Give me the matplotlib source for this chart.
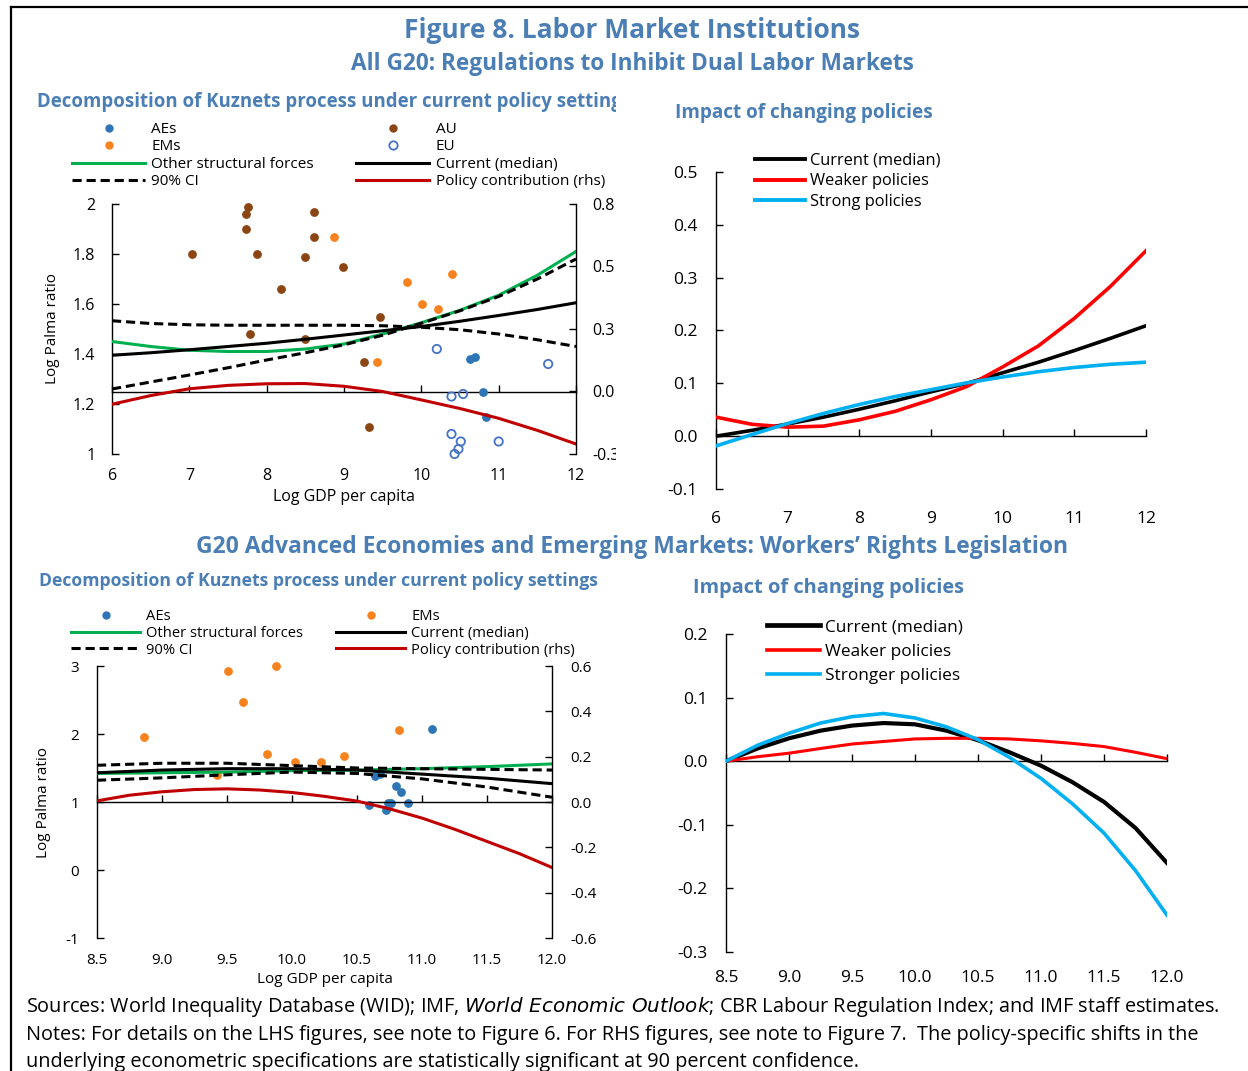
import numpy as np
import matplotlib
matplotlib.use("Agg")
import matplotlib.pyplot as plt
from matplotlib.lines import Line2D
from matplotlib.transforms import Bbox, TransformedBbox

plt.rcParams['font.family'] = ['Open Sans', 'DejaVu Sans']
plt.rcParams['axes.unicode_minus'] = False

# =============================================================================
# DATA
# =============================================================================

# --- Top left: All G20, decomposition of Kuznets process ---------------------
tl_ae_x = [10.63, 10.69, 10.80, 10.84]
tl_ae_y = [1.38, 1.39, 1.25, 1.15]
tl_em_x = [8.87, 9.81, 10.40, 10.01, 10.22, 9.43]
tl_em_y = [1.87, 1.69, 1.72, 1.60, 1.58, 1.37]
tl_au_x = [7.76, 7.73, 7.73, 7.04, 7.87, 8.61, 8.61, 8.50, 8.99, 8.18, 7.78, 8.50, 9.46, 9.26, 9.32]
tl_au_y = [1.99, 1.96, 1.90, 1.80, 1.80, 1.97, 1.87, 1.79, 1.75, 1.66, 1.48, 1.46, 1.55, 1.37, 1.11]
tl_eu_x = [10.20, 11.64, 10.39, 10.54, 10.39, 10.51, 10.48, 10.43, 11.00]
tl_eu_y = [1.42, 1.36, 1.23, 1.24, 1.08, 1.05, 1.02, 1.00, 1.05]

tl_grid = [6.0, 6.5, 7.0, 7.5, 8.0, 8.5, 9.0, 9.5, 10.0, 10.5, 11.0, 11.5, 12.0]
tl_other = [1.45, 1.43, 1.415, 1.41, 1.41, 1.42, 1.44, 1.48, 1.525, 1.575, 1.635, 1.715, 1.81]
tl_current = [1.395, 1.405, 1.417, 1.43, 1.443, 1.459, 1.476, 1.493, 1.51, 1.531, 1.554, 1.578, 1.605]
tl_ci_hi = [1.533, 1.522, 1.517, 1.515, 1.515, 1.515, 1.515, 1.513, 1.507, 1.497, 1.48, 1.457, 1.43]
tl_ci_lo = [1.26, 1.288, 1.316, 1.345, 1.376, 1.405, 1.437, 1.475, 1.523, 1.573, 1.63, 1.70, 1.78]
tl_policy = [-0.081, -0.043, -0.013, 0.002, 0.009, 0.010, -0.002, -0.025, -0.062, -0.10, -0.143, -0.196, -0.256]

tl_left_ticks = [1.0, 1.2, 1.4, 1.6, 1.8, 2.0]
tl_left_labels = ["1", "1.2", "1.4", "1.6", "1.8", "2"]
tl_right_ticks = [-0.3, -0.025, 0.25, 0.525, 0.8]
tl_right_labels = ["-0.3", "0.0", "0.3", "0.5", "0.8"]
tl_xticks = [6, 7, 8, 9, 10, 11, 12]

# --- Top right: All G20, impact of changing policies -------------------------
tr_grid = [6.0, 6.5, 7.0, 7.5, 8.0, 8.5, 9.0, 9.5, 10.0, 10.5, 11.0, 11.5, 12.0]
tr_current = [0.0, 0.011, 0.023, 0.036, 0.051, 0.067, 0.084, 0.100, 0.12, 0.14, 0.162, 0.185, 0.209]
tr_weaker = [0.036, 0.0225, 0.017, 0.019, 0.031, 0.047, 0.069, 0.094, 0.131, 0.171, 0.223, 0.283, 0.351]
tr_strong = [-0.0185, 0.003, 0.024, 0.043, 0.060, 0.075, 0.088, 0.101, 0.112, 0.122, 0.130, 0.136, 0.140]
tr_yticks = [-0.1, 0.0, 0.1, 0.2, 0.3, 0.4, 0.5]

# --- Bottom left: AEs and EMs, decomposition ---------------------------------
bl_ae_x = [11.08, 10.59, 10.64, 10.68, 10.80, 10.84, 10.72, 10.74, 10.76, 10.89]
bl_ae_y = [2.07, 0.95, 1.38, 1.41, 1.24, 1.14, 0.885, 0.98, 0.99, 0.98]
bl_em_x = [8.86, 9.51, 9.88, 9.62, 9.81, 10.02, 10.22, 10.40, 10.82, 9.42]
bl_em_y = [1.96, 2.92, 3.00, 2.47, 1.71, 1.59, 1.59, 1.68, 2.06, 1.40]

bl_grid = [8.5, 9.0, 9.5, 10.0, 10.5, 11.0, 11.5, 12.0]
bl_other = [1.42, 1.43, 1.44, 1.46, 1.47, 1.49, 1.52, 1.56]
bl_current = [1.43, 1.47, 1.49, 1.49, 1.47, 1.41, 1.35, 1.27]
bl_ci_hi = [1.54, 1.57, 1.57, 1.535, 1.50, 1.49, 1.48, 1.47]
bl_ci_lo = [1.32, 1.355, 1.40, 1.44, 1.42, 1.34, 1.22, 1.07]
bl_grid_fine = [8.5, 8.75, 9.0, 9.25, 9.5, 9.75, 10.0, 10.25, 10.5, 10.75, 11.0, 11.25, 11.5, 11.75, 12.0]
bl_policy = [0.005, 0.03, 0.045, 0.055, 0.058, 0.053, 0.042, 0.025, 0.004, -0.03, -0.071, -0.12, -0.174, -0.228, -0.289]

bl_left_ticks = [-1, 0, 1, 2, 3]
bl_right_ticks = [-0.6, -0.4, -0.2, 0.0, 0.2, 0.4, 0.6]
bl_xticks = [8.5, 9.0, 9.5, 10.0, 10.5, 11.0, 11.5, 12.0]

# --- Bottom right: AEs and EMs, impact of changing policies ------------------
br_grid = [8.5, 8.75, 9.0, 9.25, 9.5, 9.75, 10.0, 10.25, 10.5, 10.75, 11.0, 11.25, 11.5, 11.75, 12.0]
br_current = [0.0, 0.02, 0.036, 0.048, 0.056, 0.06, 0.058, 0.048, 0.033, 0.014, -0.007, -0.033, -0.064, -0.105, -0.16]
br_weaker = [0.0, 0.007, 0.0126, 0.02, 0.027, 0.031, 0.035, 0.036, 0.036, 0.035, 0.032, 0.028, 0.023, 0.014, 0.004]
br_stronger = [0.0, 0.025, 0.044, 0.06, 0.070, 0.075, 0.068, 0.054, 0.034, 0.006, -0.027, -0.067, -0.113, -0.172, -0.242]
br_yticks = [-0.3, -0.2, -0.1, 0.0, 0.1, 0.2]

# =============================================================================
# STYLE
# =============================================================================
W, H = 1248, 1071
TITLE_BLUE = '#4A7EB4'
C_AE = '#2E75B6'
C_EM = '#F7821E'
C_AU = '#8B4513'
C_EU = '#4472C4'
C_GREEN = '#00B050'
C_DARKRED = '#C00000'
C_RED = '#FF0000'
C_CYAN = '#00B0F0'
DASH = (0, (3, 1.6))


def px_axes(fig, left, top, right, bottom):
    """Axes placed with pixel edges measured on the reference."""
    return fig.add_axes([left / W, 1 - bottom / H, (right - left) / W, (bottom - top) / H])


def zero_line(ax, where, transform, ticks):
    """Horizontal axis line crossing inside the plot, with upward ticks."""
    sec = ax.secondary_xaxis(where, transform=transform)
    sec.set_alignment('bottom')
    sec.set_xticks(ticks)
    sec.tick_params(axis='x', direction='in', length=5, width=1, labelbottom=False)
    sec.spines['bottom'].set_linewidth(1)
    return sec


def style_main(ax, fs):
    for s in ('top', 'right', 'bottom'):
        ax.spines[s].set_visible(False)
    ax.spines['left'].set_linewidth(1)
    ax.tick_params(axis='y', direction='in', length=5, width=1, labelsize=fs)
    ax.tick_params(axis='x', length=0, labelsize=fs)


fig = plt.figure(figsize=(W / 100, H / 100), dpi=100)

# frame around the figure
fig.add_artist(Line2D([11 / W, 11 / W], [0, 1 - 7 / H], color='black', lw=1.6, transform=fig.transFigure))
fig.add_artist(Line2D([11 / W, 1], [1 - 7 / H, 1 - 7 / H], color='black', lw=1.6, transform=fig.transFigure))

# titles
fig.text(632 / W, 1 - 30 / H, "Figure 8. Labor Market Institutions", ha='center', va='center',
         fontsize=19, weight='bold', color=TITLE_BLUE)
fig.text(632 / W, 1 - 64 / H, "All G20: Regulations to Inhibit Dual Labor Markets", ha='center',
         va='center', fontsize=16.3, weight='bold', color=TITLE_BLUE)
clip = TransformedBbox(Bbox([[0, 0], [616 / W, 1]]), fig.transFigure)
t = fig.text(37 / W, 1 - 102 / H, "Decomposition of Kuznets process under current policy settings",
             ha='left', va='center', fontsize=13.4, weight='bold', color=TITLE_BLUE)
t.set_clip_box(clip)
t.set_clip_on(True)
fig.text(675 / W, 1 - 113 / H, "Impact of changing policies", ha='left', va='center',
         fontsize=13.7, weight='bold', color=TITLE_BLUE)
fig.text(632 / W, 1 - 547 / H,
         "G20 Advanced Economies and Emerging Markets: Workers\u2019 Rights Legislation",
         ha='center', va='center', fontsize=16.5, weight='bold', color=TITLE_BLUE)
fig.text(39 / W, 1 - 581 / H, "Decomposition of Kuznets process under current policy settings",
         ha='left', va='center', fontsize=12.7, weight='bold', color=TITLE_BLUE)
fig.text(693 / W, 1 - 588 / H, "Impact of changing policies", ha='left', va='center',
         fontsize=14.4, weight='bold', color=TITLE_BLUE)

# =============================================================================
# TOP LEFT
# =============================================================================
ax = px_axes(fig, 112, 204, 576, 454)
style_main(ax, 11.5)
ax.set_xlim(6, 12)
ax.set_ylim(1, 2)
ax.set_xticks(tl_xticks)
ax.set_yticks(tl_left_ticks)
ax.set_yticklabels(tl_left_labels)
ax.tick_params(axis='x', pad=10)
ax.tick_params(axis='y', pad=12)
ax.set_xlabel("Log GDP per capita", fontsize=11.5, labelpad=4)
ax.set_ylabel("Log Palma ratio", fontsize=11, labelpad=9)

ax.scatter(tl_au_x, tl_au_y, s=28, color=C_AU, zorder=3, clip_on=False)
ax.scatter(tl_em_x, tl_em_y, s=28, color=C_EM, zorder=3, clip_on=False)
ax.scatter(tl_ae_x, tl_ae_y, s=28, color=C_AE, zorder=3, clip_on=False)
ax.scatter(tl_eu_x, tl_eu_y, s=36, facecolors='none', edgecolors=C_EU, linewidths=1.3, zorder=3,
           clip_on=False)
ax.plot(tl_grid, tl_other, color=C_GREEN, lw=2.2, zorder=4)
ax.plot(tl_grid, tl_current, color='black', lw=2.2, zorder=4)
ax.plot(tl_grid, tl_ci_hi, color='black', lw=2.2, ls=DASH, zorder=4)
ax.plot(tl_grid, tl_ci_lo, color='black', lw=2.2, ls=DASH, zorder=4)

ax2 = ax.twinx()
for s in ('top', 'left', 'bottom'):
    ax2.spines[s].set_visible(False)
ax2.spines['right'].set_linewidth(1)
ax2.set_ylim(-0.3, 0.8)
ax2.set_yticks(tl_right_ticks)
ax2.set_yticklabels(tl_right_labels)
ax2.tick_params(axis='y', direction='in', length=5, width=1, labelsize=11.5, pad=12)
for lab in ax2.get_yticklabels():
    lab.set_clip_box(clip)
    lab.set_clip_on(True)
ax2.plot(tl_grid, tl_policy, color=C_DARKRED, lw=2.2)
zero_line(ax, 1.25, ax.transData, tl_xticks)

handles = [
    Line2D([], [], ls='', marker='o', ms=5, color=C_AE),
    Line2D([], [], ls='', marker='o', ms=5, color=C_EM),
    Line2D([], [], color=C_GREEN, lw=2.2),
    Line2D([], [], color='black', lw=2.2, ls=DASH),
    Line2D([], [], ls='', marker='o', ms=5, color=C_AU),
    Line2D([], [], ls='', marker='o', ms=6, mfc='none', mec=C_EU, mew=1.3),
    Line2D([], [], color='black', lw=2.2),
    Line2D([], [], color=C_DARKRED, lw=2.2),
]
labels = ["AEs", "EMs", "Other structural forces", "90% CI",
          "AU", "EU", "Current (median)", "Policy contribution (rhs)"]
fig.legend(handles, labels, ncol=2, loc='upper left', bbox_to_anchor=(72 / W, 1 - 122 / H),
           frameon=False, fontsize=11, handlelength=4.8, handletextpad=0.4,
           columnspacing=2.75, labelspacing=0.16, borderaxespad=0, borderpad=0)

# =============================================================================
# TOP RIGHT
# =============================================================================
ax = px_axes(fig, 716, 172, 1146, 489)
style_main(ax, 12.5)
ax.set_xlim(6, 12)
ax.set_ylim(-0.1, 0.5)
ax.set_xticks(tl_xticks)
ax.set_yticks(tr_yticks)
ax.set_yticklabels([f"{v:.1f}" for v in tr_yticks])
ax.tick_params(axis='x', pad=16)
ax.tick_params(axis='y', pad=13)
ax.plot(tr_grid, tr_current, color='black', lw=2.6, zorder=4)
ax.plot(tr_grid, tr_weaker, color=C_RED, lw=2.6, zorder=4)
ax.plot(tr_grid, tr_strong, color=C_CYAN, lw=2.6, zorder=4)
zero_line(ax, 0, ax.transData, tl_xticks)
handles = [Line2D([], [], color='black', lw=2.8),
           Line2D([], [], color=C_RED, lw=2.8),
           Line2D([], [], color=C_CYAN, lw=2.8)]
fig.legend(handles, ["Current (median)", "Weaker policies", "Strong policies"],
           loc='upper left', bbox_to_anchor=(755 / W, 1 - 153 / H), frameon=False, fontsize=11.8,
           handlelength=3.05, handletextpad=0.3, labelspacing=0.27, borderaxespad=0, borderpad=0)

# =============================================================================
# BOTTOM LEFT
# =============================================================================
ax = px_axes(fig, 97, 666, 552, 938)
style_main(ax, 11)
ax.set_xlim(8.5, 12)
ax.set_ylim(-1, 3)
ax.set_xticks(bl_xticks)
ax.set_xticklabels([f"{v:.1f}" for v in bl_xticks])
ax.set_yticks(bl_left_ticks)
ax.tick_params(axis='x', pad=11)
ax.tick_params(axis='y', pad=13)
ax.set_xlabel("Log GDP per capita", fontsize=11, labelpad=3)
ax.set_ylabel("Log Palma ratio", fontsize=11, labelpad=10)

ax.scatter(bl_em_x, bl_em_y, s=28, color=C_EM, zorder=3, clip_on=False)
ax.scatter(bl_ae_x, bl_ae_y, s=28, color=C_AE, zorder=3, clip_on=False)
ax.plot(bl_grid, bl_other, color=C_GREEN, lw=2.2, zorder=4)
ax.plot(bl_grid, bl_current, color='black', lw=2.2, zorder=4)
ax.plot(bl_grid, bl_ci_hi, color='black', lw=2.2, ls=DASH, zorder=4)
ax.plot(bl_grid, bl_ci_lo, color='black', lw=2.2, ls=DASH, zorder=4)

ax2 = ax.twinx()
for s in ('top', 'left', 'bottom'):
    ax2.spines[s].set_visible(False)
ax2.spines['right'].set_linewidth(1)
ax2.set_ylim(-0.6, 0.6)
ax2.set_yticks(bl_right_ticks)
ax2.set_yticklabels([f"{v:.1f}" for v in bl_right_ticks])
ax2.tick_params(axis='y', direction='in', length=5, width=1, labelsize=11, pad=13)
ax2.plot(bl_grid_fine, bl_policy, color=C_DARKRED, lw=2.2)
zero_line(ax2, 0, ax2.transData, bl_xticks)

handles = [
    Line2D([], [], ls='', marker='o', ms=5, color=C_AE),
    Line2D([], [], color=C_GREEN, lw=2.2),
    Line2D([], [], color='black', lw=2.2, ls=DASH),
    Line2D([], [], ls='', marker='o', ms=5, color=C_EM),
    Line2D([], [], color='black', lw=2.2),
    Line2D([], [], color=C_DARKRED, lw=2.2),
]
labels = ["AEs", "Other structural forces", "90% CI",
          "EMs", "Current (median)", "Policy contribution (rhs)"]
fig.legend(handles, labels, ncol=2, loc='upper left', bbox_to_anchor=(71 / W, 1 - 609 / H),
           frameon=False, fontsize=10.6, handlelength=4.7, handletextpad=0.4,
           columnspacing=2.25, labelspacing=0.12, borderaxespad=0, borderpad=0)

# =============================================================================
# BOTTOM RIGHT
# =============================================================================
ax = px_axes(fig, 726, 634, 1167, 952)
style_main(ax, 12.5)
ax.set_xlim(8.5, 12)
ax.set_ylim(-0.3, 0.2)
ax.set_xticks(bl_xticks)
ax.set_xticklabels([f"{v:.1f}" for v in bl_xticks])
ax.set_yticks(br_yticks)
ax.set_yticklabels([f"{v:.1f}" for v in br_yticks])
ax.tick_params(axis='x', pad=13)
ax.tick_params(axis='y', pad=13)
ax.plot(br_grid, br_current, color='black', lw=3.0, zorder=4)
ax.plot(br_grid, br_weaker, color=C_RED, lw=2.2, zorder=4)
ax.plot(br_grid, br_stronger, color=C_CYAN, lw=2.6, zorder=4)
zero_line(ax, 0, ax.transData, bl_xticks)
handles = [Line2D([], [], color='black', lw=3.4),
           Line2D([], [], color=C_RED, lw=2.6),
           Line2D([], [], color=C_CYAN, lw=2.6)]
fig.legend(handles, ["Current (median)", "Weaker policies", "Stronger policies"],
           loc='upper left', bbox_to_anchor=(767 / W, 1 - 619 / H), frameon=False, fontsize=12.4,
           handlelength=3.1, handletextpad=0.25, labelspacing=0.5, borderaxespad=0, borderpad=0)

# =============================================================================
# FOOTNOTES
# =============================================================================
fig.text(26 / W, 1 - 1007 / H,
         "Sources: World Inequality Database (WID); IMF, $\\it{World\\ Economic\\ Outlook}$; "
         "CBR Labour Regulation Index; and IMF staff estimates.",
         ha='left', va='center', fontsize=14.3)
fig.text(26 / W, 1 - 1035 / H,
         "Notes: For details on the LHS figures, see note to Figure 6. For RHS figures, see note to "
         "Figure 7.  The policy-specific shifts in the",
         ha='left', va='center', fontsize=14.3)
fig.text(26 / W, 1 - 1062 / H,
         "underlying econometric specifications are statistically significant at 90 percent confidence.",
         ha='left', va='center', fontsize=14.3)

fig.savefig("out.png", dpi=100)
